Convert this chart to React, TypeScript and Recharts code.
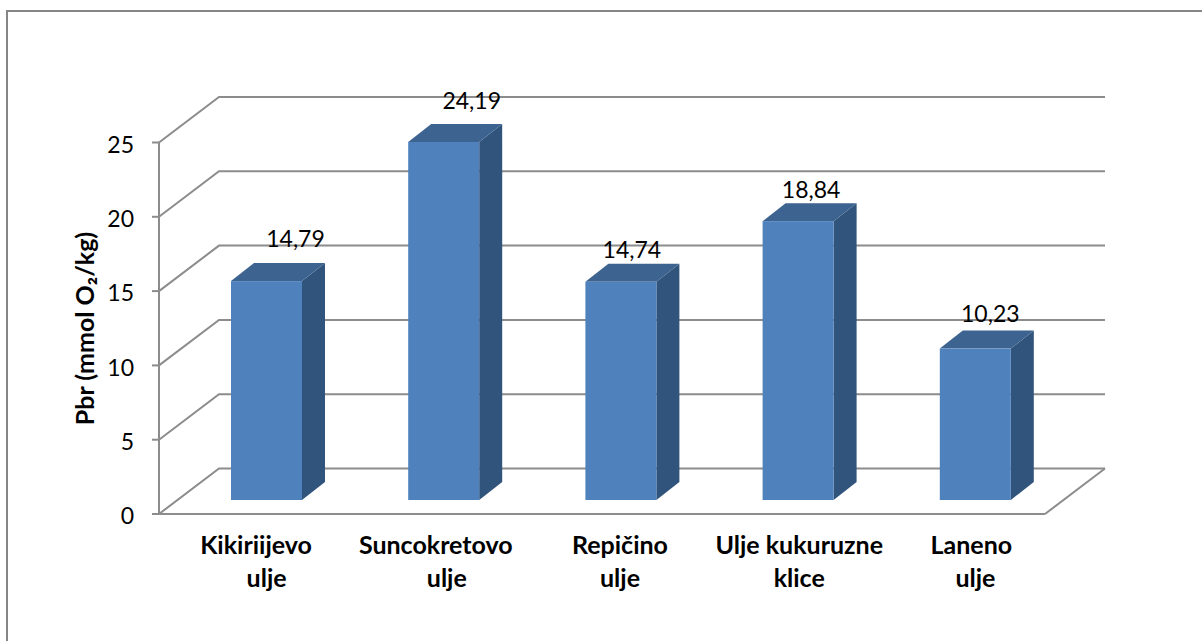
import React from 'react';
import { BarChart, Bar, XAxis, YAxis, CartesianGrid, LabelList } from 'recharts';

const categories = ['Kikiriijevo|ulje', 'Suncokretovo|ulje', 'Repičino|ulje', 'Ulje kukuruzne|klice', 'Laneno|ulje'];
const values = [14.79, 24.19, 14.74, 18.84, 10.23];
const valueLabels = ['14,79', '24,19', '14,74', '18,84', '10,23'];
const yTicks = [0, 5, 10, 15, 20, 25];
const labelNudgeX = [29, 28, 11, 13, 15];
const labelNudgeY = [-42, -41, -32, -31, -35];
const catLine1Nudge = [8.5, 11, 18, 20, 15];
const catLine2Nudge = [19, 22, 18, 20, 19];
const data = categories.map((c, i) => ({ name: c, value: values[i], label: valueLabels[i] }));

const FONT = 'Lato, Carlito, sans-serif';
const GRID = '#8c8c8c';
const DX = 60, DY = 45.5;
const BAR_DX = 19, BAR_DY = 14, SIDE_W = 23, SIDE_H = 18;

const Bar3D = (p: any) => {
  const { x, y, width, height } = p;
  const h = height * 0.996;
  const l = x + BAR_DX, r = l + width, b = y + height - BAR_DY, t = b - h;
  return (
    <g>
      <polygon points={`${r},${t} ${r + SIDE_W},${t - SIDE_H} ${r + SIDE_W},${b - SIDE_H} ${r},${b}`} fill="#31547c" />
      <polygon points={`${l},${t} ${l + SIDE_W},${t - SIDE_H} ${r + SIDE_W},${t - SIDE_H} ${r},${t}`} fill="#3d6390" />
      <rect x={l} y={t} width={width} height={h} fill="#4f81bd" />
    </g>
  );
};

const Grid = (p: any) => {
  const { x1, x2, y1 } = p;
  return (
    <g>
      <polyline points={`${x1},${y1} ${x1 + DX},${y1 - DY} ${x2 + DX},${y1 - DY}`} fill="none" stroke={GRID} strokeWidth={2} />
      {Math.abs(y1 - 514) < 2 && <line x1={x2} y1={y1} x2={x2 + DX} y2={y1 - DY} stroke={GRID} strokeWidth={2} />}
    </g>
  );
};

const XTick = (p: any) => {
  const { x, payload, index } = p;
  const [a, b] = String(payload.value).split('|');
  return (
    <text textAnchor="middle" fontFamily={FONT} fontWeight={700} fontSize={25} fill="#000">
      <tspan x={x + catLine1Nudge[index]} y={554}>{a}</tspan>
      <tspan x={x + catLine2Nudge[index]} y={587}>{b}</tspan>
    </text>
  );
};

const ValueLabel = (p: any) => {
  const { x, y, width, height, index } = p;
  const cx = x + BAR_DX + width / 2 + labelNudgeX[index];
  const top = y + height - BAR_DY - height * 0.996;
  return (
    <text x={cx} y={top + labelNudgeY[index] + 8} textAnchor="middle" fontFamily={FONT} fontSize={23} fill="#000">
      {valueLabels[index]}
    </text>
  );
};

const AxisTitle = () => (
  <text transform="translate(94,328.5) rotate(-90)" textAnchor="middle" fontFamily={FONT} fontWeight={700} fontSize={25} fill="#000">
    Pbr (mmol O₂/kg)
  </text>
);

export default function App() {
  return (
    <div style={{ position: 'absolute', left: 0, top: 0, width: 1202, height: 641, background: '#fff' }}>
      <div style={{ position: 'absolute', left: 6, top: 10, width: 1196, height: 631, borderLeft: '2px solid #868686', borderTop: '2px solid #868686' }} />
      <BarChart
        width={1202}
        height={641}
        data={data}
        margin={{ top: 142.5, right: 157, bottom: 0, left: 0 }}
        barSize={71}
        style={{ position: 'absolute', left: 0, top: 0 }}
      >
        <CartesianGrid vertical={false} horizontal={(q: any) => <Grid {...q} />} />
        <XAxis
          dataKey="name"
          interval={0}
          tick={(q: any) => <XTick {...q} />}
          tickLine={false}
          axisLine={{ stroke: GRID, strokeWidth: 2 }}
          height={127}
        />
        <YAxis
          width={159}
          domain={[0, 25]}
          ticks={yTicks}
          interval={0}
          tick={{ fontFamily: FONT, fontSize: 23, fill: '#000', dy: 2 }}
          tickSize={7}
          tickMargin={18}
          tickLine={{ stroke: GRID, strokeWidth: 2 }}
          axisLine={{ stroke: GRID, strokeWidth: 2 }}
          label={{ content: () => <AxisTitle /> }}
        />
        <Bar dataKey="value" isAnimationActive={false} shape={(q: any) => <Bar3D {...q} />}>
          <LabelList dataKey="label" content={(q: any) => <ValueLabel {...q} />} />
        </Bar>
      </BarChart>
    </div>
  );
}
